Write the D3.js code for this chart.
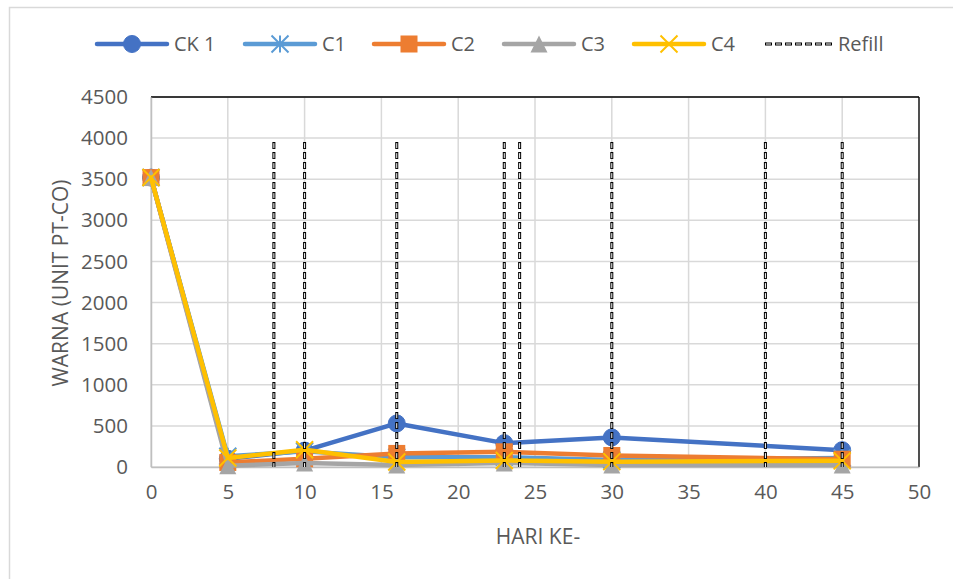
<!DOCTYPE html>
<html>
<head>
<meta charset="utf-8">
<script src="https://cdn.jsdelivr.net/npm/d3@7"></script>
<style>
  html, body { margin: 0; padding: 0; background: #fff; }
  svg { display: block; }
  text { font-family: "Open Sans", "Liberation Sans", sans-serif; fill: #595959; }
</style>
</head>
<body>
<svg id="chart" width="953" height="579"></svg>
<script>
// ---- data ----
const days = [0, 5, 10, 16, 23, 30, 45];
const seriesNames = ["CK 1", "C1", "C2", "C3", "C4"];
const ck1 = [3520, 100, 200, 530, 290, 360, 205];
const c1  = [3520, 130, 190, 120, 120, 85, 110];
const c2  = [3520, 55, 100, 165, 185, 140, 95];
const c3  = [3520, 15, 50, 25, 50, 25, 25];
const c4  = [3520, 110, 210, 60, 80, 65, 75];
const refillDays = [8, 10, 16, 23, 24, 30, 40, 45];
const refillTop = 4000;
const xTicks = [0, 5, 10, 15, 20, 25, 30, 35, 40, 45, 50];
const yTicks = [0, 500, 1000, 1500, 2000, 2500, 3000, 3500, 4000, 4500];
const xTitle = "HARI KE-";
const yTitle = "WARNA (UNIT PT-CO)";
const refillLabel = "Refill";

const colors = ["#4472C4", "#5B9BD5", "#ED7D31", "#A5A5A5", "#FFC000"];
const markers = ["circle", "star", "square", "triangle", "x"];
const values = [ck1, c1, c2, c3, c4];

// ---- layout ----
const svg = d3.select("#chart");
const L = 151, R = 919, T = 97, B = 467;
const x = d3.scaleLinear().domain([0, 50]).range([L, R]);
const y = d3.scaleLinear().domain([0, 4500]).range([B, T]);
const FONT = "\"Open Sans\", \"Liberation Sans\", sans-serif";

// outer chart border
svg.append("rect").attr("x", 9.5).attr("y", 7.5).attr("width", 1000).attr("height", 700)
  .attr("fill", "#fff").attr("stroke", "#d9d9d9").attr("stroke-width", 1.5);

// gridlines
const grid = svg.append("g");
grid.selectAll("line.h").data(yTicks).join("line")
  .attr("x1", L).attr("x2", R).attr("y1", d => y(d)).attr("y2", d => y(d))
  .attr("stroke", "#d9d9d9").attr("stroke-width", 1.5);
grid.selectAll("line.v").data(xTicks).join("line")
  .attr("y1", T).attr("y2", B).attr("x1", d => x(d)).attr("x2", d => x(d))
  .attr("stroke", "#d9d9d9").attr("stroke-width", 1.5);

// plot border: black top/right
svg.append("line").attr("x1", L).attr("x2", R).attr("y1", T).attr("y2", T).attr("stroke", "#000").attr("stroke-width", 1.3);
svg.append("line").attr("x1", R).attr("x2", R).attr("y1", T).attr("y2", B).attr("stroke", "#000").attr("stroke-width", 1.3);

// axes
const xAxis = d3.axisBottom(x).tickValues(xTicks).tickFormat(d3.format("d")).tickSize(0).tickPadding(17);
const yAxis = d3.axisLeft(y).tickValues(yTicks).tickFormat(d3.format("d")).tickSize(0).tickPadding(23);
const gx = svg.append("g").attr("transform", `translate(0,${B})`).call(xAxis);
const gy = svg.append("g").attr("transform", `translate(${L},0)`).call(yAxis);
[gx, gy].forEach(g => {
  g.select(".domain").attr("stroke", "#bfbfbf").attr("stroke-width", 1.5);
  g.selectAll("text").attr("font-size", 20.5).attr("fill", "#595959").attr("font-family", FONT);
});

// axis titles
svg.append("text").attr("x", 538).attr("y", 544).attr("text-anchor", "middle")
  .attr("font-size", 21).text(xTitle);
svg.append("text").attr("transform", "translate(68,283) rotate(-90)").attr("text-anchor", "middle")
  .attr("font-size", 21).text(yTitle);

// marker drawing
function drawMarker(g, type, color, cx, cy) {
  const s = 8.5;
  if (type === "circle") {
    g.append("circle").attr("cx", cx).attr("cy", cy).attr("r", s).attr("fill", color).attr("stroke", color);
  } else if (type === "square") {
    g.append("rect").attr("x", cx - s).attr("y", cy - s).attr("width", 2 * s).attr("height", 2 * s).attr("fill", color);
  } else if (type === "triangle") {
    g.append("path").attr("d", `M${cx},${cy - s}L${cx + s},${cy + s}L${cx - s},${cy + s}Z`).attr("fill", color);
  } else if (type === "x") {
    g.append("path").attr("d", `M${cx - s},${cy - s}L${cx + s},${cy + s}M${cx - s},${cy + s}L${cx + s},${cy - s}`)
      .attr("stroke", color).attr("stroke-width", 2);
  } else if (type === "star") {
    g.append("path").attr("d", `M${cx - s},${cy - s}L${cx + s},${cy + s}M${cx - s},${cy + s}L${cx + s},${cy - s}M${cx},${cy - s}L${cx},${cy + s}`)
      .attr("stroke", color).attr("stroke-width", 2);
  }
}

// series
const line = d3.line().x((d, i) => x(days[i])).y(d => y(d));
values.forEach((vals, si) => {
  const g = svg.append("g");
  g.append("path").datum(vals).attr("d", line).attr("fill", "none")
    .attr("stroke", colors[si]).attr("stroke-width", 4.5).attr("stroke-linejoin", "round").attr("stroke-linecap", "round");
  vals.forEach((v, i) => drawMarker(g, markers[si], colors[si], x(days[i]), y(v)));
});

// refill lines
function refillLine(g, x1, y1, x2, y2) {
  g.append("line").attr("x1", x1).attr("x2", x2).attr("y1", y1).attr("y2", y2)
    .attr("stroke", "#000").attr("stroke-width", 3).attr("stroke-dasharray", "7 3");
  g.append("line").attr("x1", x1).attr("x2", x2).attr("y1", y1).attr("y2", y2)
    .attr("stroke", "#fff").attr("stroke-width", 1).attr("stroke-dasharray", "5 5").attr("stroke-dashoffset", -1);
}
const gr = svg.append("g");
refillDays.forEach(d => refillLine(gr, x(d), y(refillTop) + 4, x(d), y(0)));

// legend
const legend = svg.append("g");
const legX = [97, 245, 374, 504, 634];
const legY = 44;
values.forEach((v, si) => {
  const lx = legX[si];
  legend.append("line").attr("x1", lx).attr("x2", lx + 70).attr("y1", legY).attr("y2", legY)
    .attr("stroke", colors[si]).attr("stroke-width", 4.5).attr("stroke-linecap", "round");
  drawMarker(legend, markers[si], colors[si], lx + 35, legY);
  legend.append("text").attr("x", lx + 77).attr("y", legY + 7).attr("font-size", 20).text(seriesNames[si]);
});
// refill legend (horizontal dashed)
{
  const lx = 765;
  legend.append("line").attr("x1", lx).attr("x2", lx + 67).attr("y1", legY).attr("y2", legY)
    .attr("stroke", "#000").attr("stroke-width", 3).attr("stroke-dasharray", "7 3");
  legend.append("line").attr("x1", lx).attr("x2", lx + 67).attr("y1", legY).attr("y2", legY)
    .attr("stroke", "#fff").attr("stroke-width", 1).attr("stroke-dasharray", "5 5").attr("stroke-dashoffset", -1);
  legend.append("text").attr("x", lx + 73).attr("y", legY + 7).attr("font-size", 20).text(refillLabel);
}
</script>
</body>
</html>
